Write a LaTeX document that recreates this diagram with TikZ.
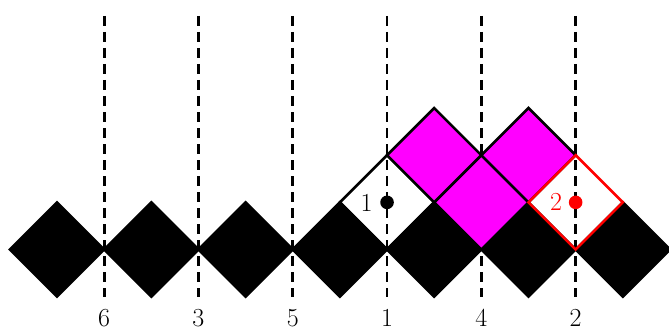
\documentclass[tikz,border=0pt]{standalone}
\usepackage{fontspec}
\definecolor{mag}{RGB}{255,0,255}
\definecolor{rd}{RGB}{255,0,0}
\tikzset{
  tile/.pic={\path[pic actions] (-47.15pt,0)--(0,47.15pt)--(47.15pt,0)--(0,-47.15pt)--cycle;},
  blacktile/.style={fill=black,draw=black,line width=2.6pt,line join=miter},
  magtile/.style={fill=mag,draw=black,line width=2.6pt,line join=miter},
  whitetile/.style={draw=black,line width=2.6pt,line join=miter},
  redtile/.style={draw=rd,line width=2.6pt,line join=miter},
  guide/.style={draw=black,line width=2.8pt,dash pattern=on 10pt off 6pt},
  lab/.style={font=\fontsize{26}{30}\selectfont,inner sep=0pt},
  dot/.style={circle,fill=#1,inner sep=0pt,minimum size=13.6pt}
}
\begin{document}
\begin{tikzpicture}[x=1pt,y=1pt]
\useasboundingbox (0,0) rectangle (669,330);
% guide lines
\foreach \xx/\nm/\tx in {104.15/g6/6,198.45/g3/3,292.75/g5/5,387.05/g1/1,481.35/g4/4,575.65/g2/2}{
  \coordinate (\nm top) at (\xx,314);
  \coordinate (\nm bot) at (\xx,33);
  \draw[guide] (\nm top) -- (\nm bot);
  \node[lab] (\nm lab) at (\xx,12) {\tx};
}
% bottom row
\foreach \xx in {57,151.3,245.6,339.9,434.2,528.5,622.8}{
  \pic[blacktile] at (\xx,80.5) {tile};
}
% middle row
\pic[magtile] at (481.35,127.65) {tile};
\pic[whitetile] at (387.05,127.65) {tile};
% top row
\pic[magtile] at (434.2,174.8) {tile};
\pic[magtile] at (528.5,174.8) {tile};
\pic[redtile] at (575.65,127.65) {tile};
% dots and labels
\node[dot=black] (d1) at (387.05,127.65) {};
\node[dot=rd] (d2) at (575.65,127.65) {};
\node[lab] (l1) at (366.7,127) {1};
\node[lab,text=rd] (l2) at (556,128) {2};
\end{tikzpicture}
\end{document}
